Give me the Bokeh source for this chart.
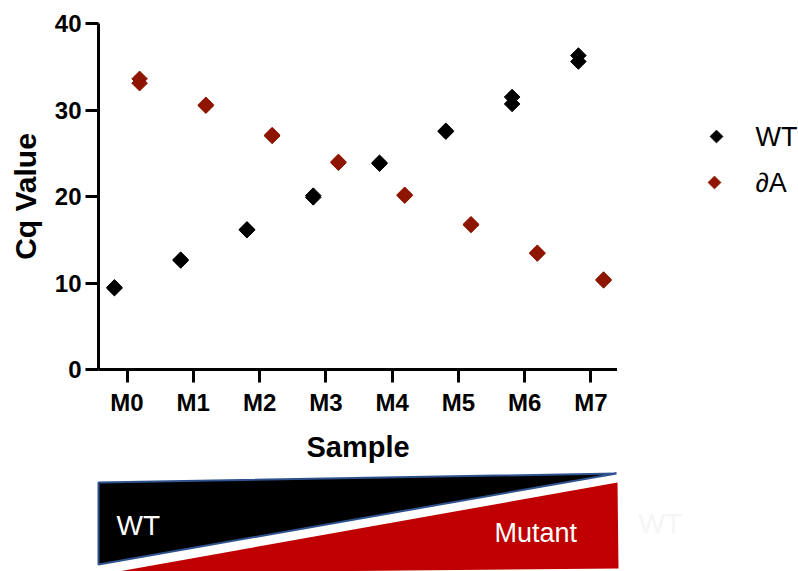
import math
from bokeh.plotting import figure
from bokeh.models import Range1d, FixedTicker, ColumnDataSource
from bokeh.layouts import column, row
from bokeh.core.properties import value
from bokeh.embed import file_html
from bokeh.resources import INLINE

# ---- data ----
samples = ["M0", "M1", "M2", "M3", "M4", "M5", "M6", "M7"]
wt_rep1 = [9.4, 12.6, 16.1, 20.1, 23.8, 27.5, 31.5, 36.3]
wt_rep2 = [9.5, 12.7, 16.2, 19.9, 23.9, 27.6, 30.7, 35.6]
da_rep1 = [33.6, 30.5, 27.0, 23.9, 20.1, 16.7, 13.4, 10.3]
da_rep2 = [33.1, 30.6, 27.1, 24.0, 20.2, 16.8, 13.5, 10.4]
y_ticks = [0, 10, 20, 30, 40]
series_labels = ["WT", "\u2202A"]

FONT = "Liberation Sans"
WT_COLOR = "black"
DA_COLOR = "#8E1600"

idx = list(range(len(samples)))
wt_x = [i - 0.19 for i in idx] * 2
da_x = [i + 0.19 for i in idx] * 2
wt_src = ColumnDataSource(dict(x=wt_x, y=wt_rep1 + wt_rep2))
da_src = ColumnDataSource(dict(x=da_x, y=da_rep1 + da_rep2))

p = figure(width=617, height=465, x_range=Range1d(-0.43, 7.4), y_range=Range1d(0, 40),
           output_backend="svg", toolbar_location=None,
           min_border_left=98, min_border_right=0, min_border_top=23, min_border_bottom=465 - 371)
p.outline_line_color = None
p.grid.visible = False
p.frame_align = False

p.scatter("x", "y", source=wt_src, marker="square", angle=math.pi / 4, size=11,
          fill_color=WT_COLOR, line_color=WT_COLOR)
p.scatter("x", "y", source=da_src, marker="square", angle=math.pi / 4, size=11,
          fill_color=DA_COLOR, line_color=DA_COLOR)

for ax in (p.xaxis[0], p.yaxis[0]):
    ax.axis_line_width = 3
    ax.axis_line_color = "black"
    ax.major_tick_line_width = 3
    ax.major_tick_line_color = "black"
    ax.major_tick_out = 13
    ax.major_tick_in = 0
    ax.minor_tick_line_color = None
    ax.major_label_text_font = FONT
    ax.major_label_text_font_style = "bold"
    ax.major_label_text_font_size = "24px"
    ax.major_label_text_color = "black"
    ax.axis_label_text_font = FONT
    ax.axis_label_text_font_style = "bold"
    ax.axis_label_text_color = "black"

p.xaxis.ticker = FixedTicker(ticks=idx)
p.xaxis.major_label_overrides = {i: s for i, s in zip(idx, samples)}
p.xaxis.axis_label = "Sample"
p.xaxis.axis_label_text_font_size = "29px"
p.xaxis.major_label_standoff = 6
p.xaxis.axis_label_standoff = 12

p.yaxis.ticker = FixedTicker(ticks=y_ticks)
p.yaxis.axis_label = "Cq Value"
p.yaxis.axis_label_text_font_size = "30px"
p.yaxis.major_label_standoff = 4
p.yaxis.axis_label_standoff = 10

# ---- legend panel (right), pixel-like coordinates ----
r = figure(width=181, height=465, x_range=Range1d(617, 798), y_range=Range1d(465, 0),
           output_backend="svg", toolbar_location=None, x_axis_location=None, y_axis_location=None,
           min_border=0)
r.outline_line_color = None
r.grid.visible = False
r.frame_align = False
legend_marker_x = [716, 714]
legend_y = [136, 182]
legend_colors = [WT_COLOR, DA_COLOR]
r.scatter(x=legend_marker_x, y=legend_y, marker="square", angle=math.pi / 4, size=9,
          fill_color=legend_colors, line_color=legend_colors)
r.text(x=[755, 755], y=legend_y, text=series_labels, text_color="black", text_font=value(FONT),
       text_font_size="27px", text_baseline="middle", text_align="left")

# ---- bottom graphic ----
q = figure(width=798, height=106, x_range=Range1d(0, 798), y_range=Range1d(571, 465),
           output_backend="svg", toolbar_location=None, x_axis_location=None, y_axis_location=None,
           min_border=0)
q.outline_line_color = None
q.grid.visible = False
q.frame_align = False

black_xs = [98, 616, 98]
black_ys = [482, 473, 564]
red_xs = [118, 617, 618, 300]
red_ys = [571, 482, 568, 571]
q.patch(red_xs, red_ys, fill_color="#C00000", line_color=None)
q.patch(black_xs, black_ys, fill_color="black", line_color="#2F528F", line_width=2)
q.text(x=[116], y=[525], text=["WT"], text_color="white", text_font=value(FONT),
       text_font_size="28px", text_baseline="alphabetic")
q.text(x=[494], y=[532], text=["Mutant"], text_color="white", text_font=value(FONT),
       text_font_size="27px", text_baseline="alphabetic")
q.text(x=[638], y=[523], text=["WT"], text_color="#F5F5F5", text_font=value(FONT),
       text_font_size="28px", text_baseline="alphabetic")

layout = column(row(p, r, spacing=0), q, spacing=0)
open("out.html", "w").write(file_html(layout, INLINE))
